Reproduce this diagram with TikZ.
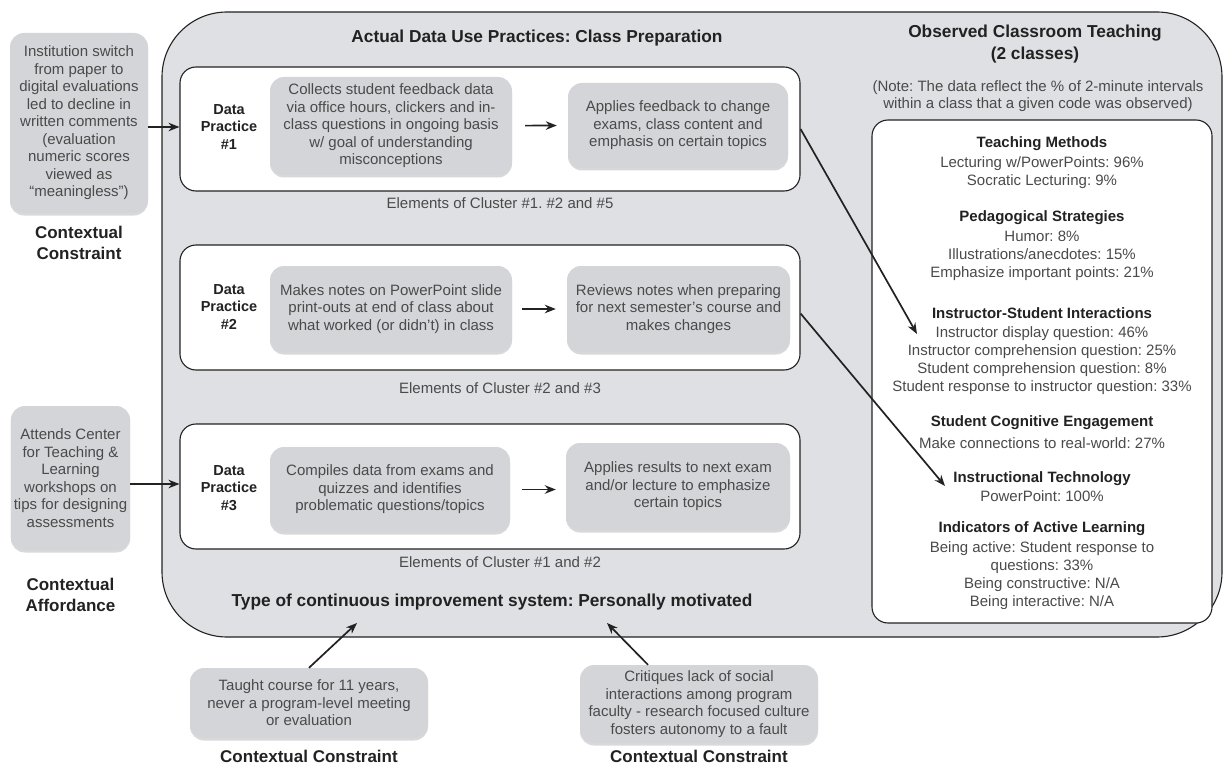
\documentclass[tikz,border=0pt]{standalone}
\usepackage{fontspec}
\setmainfont{Liberation Sans}
\usepackage{xcolor}
\usetikzlibrary{positioning, arrows.meta, shadows}

\definecolor{panelgray}{HTML}{DEE0E3}
\definecolor{boxgray}{HTML}{D3D5D8}
\definecolor{textgray}{HTML}{4A4A4A}
\definecolor{inkdark}{HTML}{222222}
\frenchspacing

\begin{document}
\begin{tikzpicture}[x=1pt, y=-1pt,
        every node/.style={font=\fontsize{15}{17.5}\selectfont, text=textgray},
        panel/.style={rectangle, draw=inkdark, line width=1.1pt, fill=panelgray, rounded corners=65pt},
        practice/.style={rectangle, draw=inkdark, line width=1.1pt, fill=white, rounded corners=16pt},
        actbox/.style={rectangle, fill=boxgray, rounded corners=14pt, align=center, inner sep=3pt,
            drop shadow={shadow xshift=0pt, shadow yshift=-2.5pt, opacity=0.3, fill=black!50}},
        ctxlabel/.style={font=\fontsize{17}{21}\selectfont\bfseries, text=inkdark, align=center},
        dplabel/.style={font=\fontsize{14.5}{17.5}\selectfont\bfseries, text=inkdark, align=center},
        heading/.style={font=\fontsize{17.3}{22}\selectfont\bfseries, text=inkdark, align=center},
        obs/.style={align=center, anchor=north, inner sep=0pt, font=\fontsize{15}{18}\selectfont},
        flow/.style={-{Stealth[length=11pt, width=8.5pt]}, line width=1.7pt, draw=inkdark},
    ]
        \useasboundingbox (0,0) rectangle (1224,765);

        % Outer system panel
        \node[panel, minimum width=1060pt, minimum height=625pt] (system) at (692,324.5) {};
        \node[heading] (prep) at (537,38) {Actual Data Use Practices: Class Preparation};
        \node[heading] (observedtitle) at (1035,44) {Observed Classroom Teaching\\(2 classes)};
        \node[align=center] (note) at (1038,96) {(Note: The data reflect the \% of 2-minute intervals\\within a class that a given code was observed)};

        % Contextual factors
        \node[actbox, minimum width=138pt, minimum height=180pt] (switch) at (79,123)
            {Institution switch\\from paper to\\digital evaluations\\led to decline in\\written comments\\(evaluation\\numeric scores\\viewed as\\``meaningless'')};
        \node[ctxlabel, below=9pt of switch] (switchlbl) {Contextual\\Constraint};
        \node[actbox, minimum width=113pt, minimum height=144pt] (cetl) at (70.5,478)
            {Attends Center\\for Teaching \&\\Learning\\workshops on\\tips for designing\\assessments};
        \node[ctxlabel, below=24pt of cetl] (cetllbl) {Contextual\\Affordance};
        \node[actbox, minimum width=238pt, minimum height=70pt] (taught) at (309,703)
            {Taught course for 11 years,\\never a program-level meeting\\or evaluation};
        \node[ctxlabel, below=8pt of taught] (taughtlbl) {Contextual Constraint};
        \node[actbox, minimum width=238pt, minimum height=78pt] (critique) at (699,704)
            {Critiques lack of social\\interactions among program\\faculty - research focused culture\\fosters autonomy to a fault};
        \node[ctxlabel, below=3.5pt of critique] (critiquelbl) {Contextual Constraint};

        % Data practices
        \node[practice, minimum width=620pt, minimum height=124pt] (dp1) at (490,129) {};
        \node[dplabel] (dp1lbl) at (229,127) {Data\\Practice\\\#1};
        \node[actbox, minimum width=242pt, minimum height=98pt] (collect) at (391,126)
            {Collects student feedback data\\via office hours, clickers and in-\\class questions in ongoing basis\\w/ goal of understanding\\misconceptions};
        \node[actbox, minimum width=220pt, minimum height=85pt] (change) at (678,125.5)
            {Applies feedback to change\\exams, class content and\\emphasis on certain topics};
        \node (cluster1) at (500,203) {Elements of Cluster \#1. \#2 and \#5};

        \node[practice, minimum width=620pt, minimum height=125pt] (dp2) at (490,307.5) {};
        \node[dplabel] (dp2lbl) at (229,307) {Data\\Practice\\\#2};
        \node[actbox, minimum width=242pt, minimum height=86pt] (notes) at (391,309)
            {Makes notes on PowerPoint slide\\print-outs at end of class about\\what worked (or didn't) in class};
        \node[actbox, minimum width=223pt, minimum height=86pt] (review) at (678.5,309)
            {Reviews notes when preparing\\for next semester's course and\\makes changes};
        \node (cluster2) at (500,388) {Elements of Cluster \#2 and \#3};

        \node[practice, minimum width=620pt, minimum height=125pt] (dp3) at (490,486.5) {};
        \node[dplabel] (dp3lbl) at (229,488) {Data\\Practice\\\#3};
        \node[actbox, minimum width=240pt, minimum height=85pt] (compile) at (390,489.5)
            {Compiles data from exams and\\quizzes and identifies\\problematic questions/topics};
        \node[actbox, minimum width=224pt, minimum height=87pt] (results) at (678,486.5)
            {Applies results to next exam\\and/or lecture to emphasize\\certain topics};
        \node (cluster3) at (500,562) {Elements of Cluster \#1 and \#2};

        \node[heading] (systype) at (492,602) {Type of continuous improvement system: Personally motivated};

        % Observed teaching
        \node[practice, minimum width=340pt, minimum height=503pt] (observed) at (1042,371.5) {};
        \node[obs] (methods) at (1042,136) {{\bfseries\color{inkdark}Teaching Methods}\\[2pt]Lecturing w/PowerPoints: 96\%\\Socratic Lecturing: 9\%};
        \node[obs] (strategies) at (1042,210) {{\bfseries\color{inkdark}Pedagogical Strategies}\\[2pt]Humor: 8\%\\Illustrations/anecdotes: 15\%\\Emphasize important points: 21\%};
        \node[obs] (interactions) at (1042,307) {{\bfseries\color{inkdark}Instructor-Student Interactions}\\[1pt]Instructor display question: 46\%\\Instructor comprehension question: 25\%\\Student comprehension question: 8\%\\Student response to instructor question: 33\%};
        \node[obs] (engagement) at (1042,415) {{\bfseries\color{inkdark}Student Cognitive Engagement}\\[4pt]Make connections to real-world: 27\%};
        \node[obs] (technology) at (1042,471) {{\bfseries\color{inkdark}Instructional Technology}\\[1pt]PowerPoint: 100\%};
        \node[obs] (indicators) at (1042,521) {{\bfseries\color{inkdark}Indicators of Active Learning}\\[2pt]Being active: Student response to\\questions: 33\%\\Being constructive: N/A\\Being interactive: N/A};

        % Connectors
        \coordinate (instrtip) at (917,334);
        \coordinate (techtip) at (945,486);
        \coordinate (typetip1) at (357,623);
        \coordinate (typetip2) at (607,623);

        \draw[flow] (switch.east |- dp1lbl) -- (dp1.west |- dp1lbl);
        \draw[flow] ([yshift=4pt]cetl.east |- dp3lbl) -- ([yshift=4pt]dp3.west |- dp3lbl);
        \draw[flow, shorten <=13pt, shorten >=11pt] (collect) -- (change.west -| change.west);
        \draw[flow, shorten <=10pt, shorten >=11pt] (notes) -- (review);
        \draw[flow, shorten <=12pt, shorten >=10pt] (compile) -- (compile -| results.west);
        \draw[flow] (dp1.east) -- (instrtip);
        \draw[flow] ([yshift=-6pt]dp2.east) -- (techtip);
        \draw[flow] (taught.north) -- (typetip1);
        \draw[flow] ([xshift=-51pt]critique.north) -- (typetip2);
    \end{tikzpicture}
\end{document}
